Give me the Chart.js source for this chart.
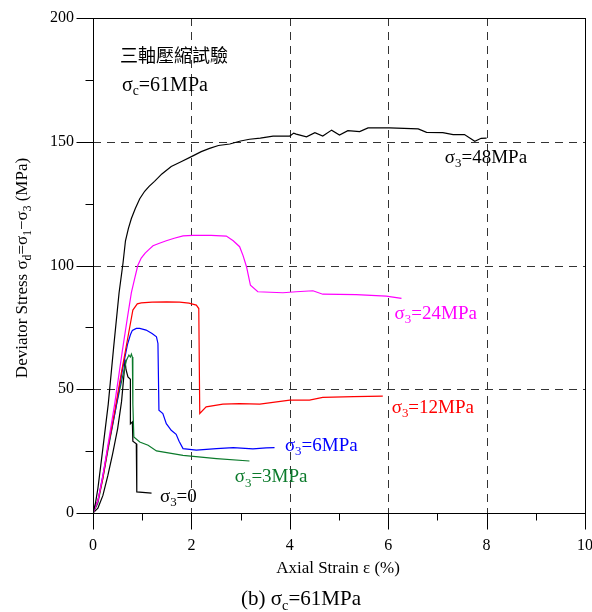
<!DOCTYPE html>
<html>
<head>
<meta charset="utf-8">
<script src="https://cdn.jsdelivr.net/npm/chart.js@4.4.1/dist/chart.umd.min.js"></script>
<style>
html, body { margin: 0; padding: 0; background: #fff; overflow: hidden; }
#wrap { width: 592px; height: 612px; position: relative; }
</style>
</head>
<body>
<div id="wrap"><canvas id="chart"></canvas></div>
<script>
// axial strain (%) and deviator stress (MPa)
var s48Strain = [0, 0.05, 0.1, 0.2, 0.31, 0.42, 0.53, 0.61, 0.66, 0.72, 0.78, 0.86, 0.95, 1.05, 1.14, 1.25, 1.4, 1.59, 1.8, 2.0, 2.2, 2.37, 2.55, 2.78, 3.0, 3.18, 3.4, 3.66, 4.0, 4.08, 4.13, 4.34, 4.51, 4.67, 4.85, 5.01, 5.18, 5.42, 5.59, 6.03, 6.61, 6.78, 7.11, 7.32, 7.55, 7.76, 7.89, 8.0];
var s48Stress = [0, 4, 10, 26, 44, 67, 89, 101, 110, 115, 119, 123, 127, 130, 132, 134, 137, 140, 142, 144, 146, 147.3, 148.5, 149.1, 150.3, 151, 151.5, 152.3, 152.3, 153.5, 153.1, 152, 153.7, 152.3, 154.7, 152.7, 154.5, 154.1, 155.6, 155.6, 155.2, 153.8, 153.7, 152.9, 152.9, 150.2, 151.4, 151.5];

var s24Strain = [0, 0.1, 0.2, 0.3, 0.44, 0.6, 0.7, 0.78, 0.85, 0.91, 0.98, 1.06, 1.14, 1.22, 1.35, 1.49, 1.65, 1.83, 2.03, 2.4, 2.71, 2.85, 2.98, 3.05, 3.12, 3.2, 3.35, 3.86, 4.13, 4.47, 4.67, 5.35, 5.96, 6.27];
var s24Stress = [0, 5, 15, 27, 44, 66, 79, 89, 95, 100, 103, 105, 106.5, 108, 109, 110, 111, 112, 112.2, 112.2, 111.9, 110, 107.6, 104, 99.5, 92, 89.4, 89, 89.4, 89.8, 88.4, 88.2, 87.6, 86.7];

var s12Strain = [0, 0.1, 0.2, 0.3, 0.45, 0.58, 0.7, 0.81, 0.9, 0.98, 1.2, 1.5, 1.76, 1.95, 2.1, 2.15, 2.17, 2.3, 2.64, 2.98, 3.39, 4.0, 4.4, 4.67, 5.3, 5.89];
var s12Stress = [0, 5, 14, 26, 42, 57, 70, 82, 84.5, 84.9, 85.2, 85.3, 85.2, 84.8, 84, 82.6, 40.2, 42.9, 44, 44.2, 44, 45.6, 45.6, 46.7, 47, 47.2];

var s6Strain = [0, 0.1, 0.2, 0.3, 0.46, 0.6, 0.7, 0.76, 0.8, 0.88, 0.95, 1.08, 1.2, 1.29, 1.32, 1.34, 1.42, 1.49, 1.55, 1.59, 1.69, 1.75, 1.83, 2.1, 2.51, 2.85, 3.25, 3.52, 3.69];
var s6Stress = [0, 5, 15, 26, 42, 58, 68, 72, 73.8, 74.6, 74.6, 73.9, 72.5, 71.2, 68.5, 41.5, 40.2, 36.1, 34.5, 33.4, 31.8, 29, 26, 25.4, 26, 26.4, 25.9, 26.3, 26.4];

var s3Strain = [0, 0.1, 0.2, 0.3, 0.47, 0.6, 0.68, 0.73, 0.76, 0.78, 0.8, 0.81, 0.83, 0.95, 1.12, 1.29, 1.83, 2.51, 3.18];
var s3Stress = [0, 4, 14, 25, 43, 55, 61.7, 63.8, 63, 64.2, 63, 44, 30.7, 28.7, 27.4, 25.1, 23.3, 22, 21];

var s0Strain = [0, 0.1, 0.2, 0.3, 0.4, 0.5, 0.58, 0.63, 0.65, 0.67, 0.71, 0.76, 0.76, 0.8, 0.81, 0.88, 0.89, 1.19];
var s0Stress = [0, 2, 7, 15, 24, 34, 45, 56, 62, 58, 55, 54, 36, 36.8, 29, 28, 8.5, 8];

var seriesNames = ['48MPa', '24MPa', '12MPa', '6MPa', '3MPa', '0'];
var labelStrain = [7.15, 6.13, 6.07, 3.9, 2.88, 1.36];
var labelStress = [143.8, 80.8, 42.8, 27.4, 14.8, 7.0];

var xMajor = [0, 2, 4, 6, 8, 10];
var xMinor = [1, 3, 5, 7, 9];
var yMajor = [0, 50, 100, 150, 200];
var yMinor = [25, 75, 125, 175];
var xGrid = [2, 4, 6, 8];
var yGrid = [50, 100, 150];

var colors = ['#000000', '#ff00ff', '#ff0000', '#0000ff', '#0b7a2b', '#000000'];
var strains = [s48Strain, s24Strain, s12Strain, s6Strain, s3Strain, s0Strain];
var stresses = [s48Stress, s24Stress, s12Stress, s6Stress, s3Stress, s0Stress];

var SERIF = '"Liberation Serif", "Times New Roman", serif';

function pairs(xs, ys) {
    var out = [];
    for (var i = 0; i < xs.length; i++) out.push({x: xs[i], y: ys[i]});
    return out;
}

var datasets = [];
for (var i = 0; i < seriesNames.length; i++) {
    datasets.push({
        label: 'σ3=' + seriesNames[i],
        data: pairs(strains[i], stresses[i]),
        borderColor: colors[i],
        borderWidth: 1.2,
        showLine: true,
        pointRadius: 0,
        tension: 0,
        fill: false
    });
}

// text with subscripts: parts = [[text, isSub], ...]
function rich(ctx, parts, x, y, size, color, align, family) {
    family = family || SERIF;
    var w = 0, ws = [];
    for (var i = 0; i < parts.length; i++) {
        ctx.font = (parts[i][1] ? size * 0.68 : size) + 'px ' + family;
        ws.push(ctx.measureText(parts[i][0]).width);
        w += ws[i];
    }
    var sx = x;
    if (align === 'center') sx = x - w / 2;
    else if (align === 'right') sx = x - w;
    ctx.fillStyle = color;
    ctx.textAlign = 'left';
    ctx.textBaseline = 'alphabetic';
    for (var j = 0; j < parts.length; j++) {
        ctx.font = (parts[j][1] ? size * 0.68 : size) + 'px ' + family;
        ctx.fillText(parts[j][0], sx, parts[j][1] ? y + size * 0.22 : y);
        sx += ws[j];
    }
}

function px(v) { return Math.round(v) + 0.5; }

var axesPlugin = {
    id: 'axesPlugin',
    beforeDatasetsDraw: function(chart) {
        var ctx = chart.ctx, a = chart.chartArea;
        var xs = chart.scales.x, ys = chart.scales.y;
        ctx.save();
        ctx.strokeStyle = '#333';
        ctx.lineWidth = 1;
        ctx.setLineDash([8, 6]);
        xGrid.forEach(function(v) {
            var p = px(xs.getPixelForValue(v));
            ctx.beginPath(); ctx.moveTo(p, a.top); ctx.lineTo(p, a.bottom); ctx.stroke();
        });
        yGrid.forEach(function(v) {
            var p = px(ys.getPixelForValue(v));
            ctx.beginPath(); ctx.moveTo(a.left, p); ctx.lineTo(a.right, p); ctx.stroke();
        });
        ctx.restore();
    },
    afterDatasetsDraw: function(chart) {
        var ctx = chart.ctx, a = chart.chartArea;
        var xs = chart.scales.x, ys = chart.scales.y;
        var L = px(a.left), R = px(a.right), T = px(a.top), B = px(a.bottom);
        ctx.save();
        ctx.strokeStyle = '#000';
        ctx.lineWidth = 1;
        ctx.setLineDash([]);
        ctx.strokeRect(L, T, R - L, B - T);

        ctx.beginPath();
        xMajor.forEach(function(v) {
            var p = px(xs.getPixelForValue(v));
            ctx.moveTo(p, B); ctx.lineTo(p, B + 16);
        });
        xMinor.forEach(function(v) {
            var p = px(xs.getPixelForValue(v));
            ctx.moveTo(p, B); ctx.lineTo(p, B + 7);
        });
        yMajor.forEach(function(v) {
            var p = px(ys.getPixelForValue(v));
            ctx.moveTo(L, p); ctx.lineTo(L - 17, p);
        });
        yMinor.forEach(function(v) {
            var p = px(ys.getPixelForValue(v));
            ctx.moveTo(L, p); ctx.lineTo(L - 8, p);
        });
        ctx.stroke();

        // tick labels
        ctx.fillStyle = '#000';
        ctx.font = '16px ' + SERIF;
        ctx.textAlign = 'center';
        ctx.textBaseline = 'middle';
        xMajor.forEach(function(v) {
            ctx.fillText(String(v), xs.getPixelForValue(v), 546);
        });
        ctx.textAlign = 'right';
        yMajor.forEach(function(v) {
            ctx.fillText(String(v), 74, ys.getPixelForValue(v));
        });

        // axis titles
        rich(ctx, [['Axial Strain ε (%)', false]], 338, 573, 17, '#000', 'center');
        ctx.save();
        ctx.translate(27, 268);
        ctx.rotate(-Math.PI / 2);
        rich(ctx, [['Deviator Stress σ', false], ['d', true], ['=σ', false], ['1', true], ['−σ', false], ['3', true], [' (MPa)', false]], 0, 0, 17, '#000', 'center');
        ctx.restore();

        // caption and notes
        rich(ctx, [['(b) σ', false], ['c', true], ['=61MPa', false]], 301, 605, 21, '#000', 'center');
        rich(ctx, [['三軸壓縮試驗', false]], 120, 62, 18, '#000', 'left', '"Noto Sans CJK TC", sans-serif');
        rich(ctx, [['σ', false], ['c', true], ['=61MPa', false]], 122, 91, 20, '#000', 'left');

        // curve labels
        for (var i = 0; i < seriesNames.length; i++) {
            rich(ctx, [['σ', false], ['3', true], ['=' + seriesNames[i], false]],
                xs.getPixelForValue(labelStrain[i]), ys.getPixelForValue(labelStress[i]) + 6,
                19, colors[i], 'left');
        }
        ctx.restore();
    }
};

var chart = new Chart(document.getElementById('chart'), {
    type: 'scatter',
    data: {datasets: datasets},
    options: {
        responsive: true,
        maintainAspectRatio: false,
        animation: false,
        layout: {padding: {left: 93, right: 7, top: 18, bottom: 99}},
        plugins: {legend: {display: false}, tooltip: {enabled: false}},
        scales: {
            x: {type: 'linear', min: 0, max: 10, display: false},
            y: {type: 'linear', min: 0, max: 200, display: false}
        }
    },
    plugins: [axesPlugin]
});
</script>
</body>
</html>
